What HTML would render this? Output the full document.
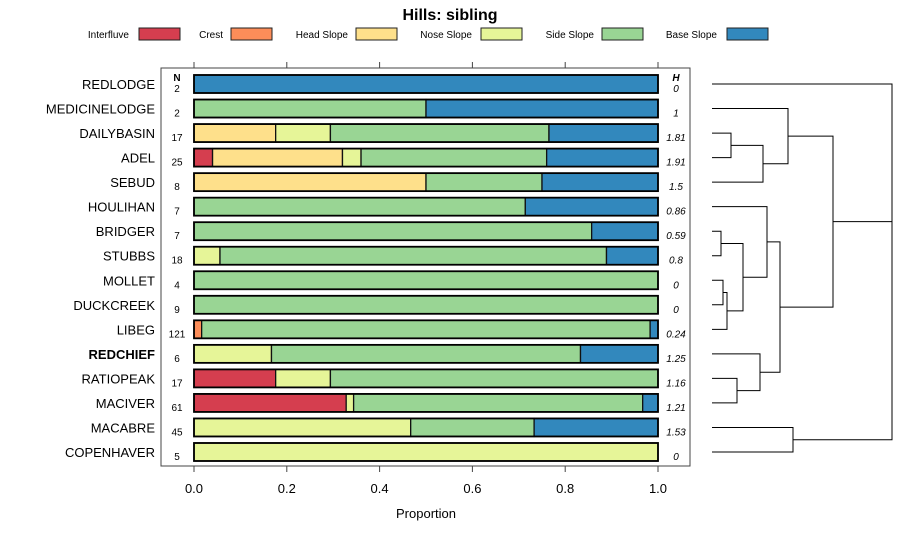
<!DOCTYPE html>
<html><head><meta charset="utf-8"><style>
body{margin:0;background:#fff}
svg{font-family:"Liberation Sans",sans-serif}
</style></head><body>
<svg id="c" width="900" height="540" viewBox="0 0 900 540" xmlns="http://www.w3.org/2000/svg">
<text x="450" y="20" text-anchor="middle" font-size="16" font-weight="bold">Hills: sibling</text>
<g id="legend"></g>
<rect x="161" y="68" width="529" height="398" fill="none" stroke="#444" stroke-width="1"/>
<g id="axis"></g>
<g id="bars"></g>
<g id="dendro" stroke="#000" stroke-width="1" fill="none"></g>
<text x="426" y="518" text-anchor="middle" font-size="13">Proportion</text>
<text x="177" y="81" text-anchor="middle" font-size="10" font-weight="bold">N</text>
<text x="676" y="81" text-anchor="middle" font-size="10" font-weight="bold" font-style="italic">H</text>
</svg>
<script>
const categories=["REDLODGE","MEDICINELODGE","DAILYBASIN","ADEL","SEBUD","HOULIHAN","BRIDGER","STUBBS","MOLLET","DUCKCREEK","LIBEG","REDCHIEF","RATIOPEAK","MACIVER","MACABRE","COPENHAVER"];
const seriesNames=["Interfluve","Crest","Head Slope","Nose Slope","Side Slope","Base Slope"];
const interfluve=[0,0,0,0.04,0,0,0,0,0,0,0,0,0.176,0.328,0,0];
const crest=[0,0,0,0,0,0,0,0,0,0,0.0165,0,0,0,0,0];
const headSlope=[0,0,0.176,0.28,0.5,0,0,0,0,0,0,0,0,0,0,0];
const noseSlope=[0,0,0.118,0.04,0,0,0,0.056,0,0,0,0.167,0.118,0.016,0.467,1];
const sideSlope=[0,0.5,0.471,0.4,0.25,0.714,0.857,0.833,1,1,0.9665,0.666,0.706,0.623,0.266,0];
const baseSlope=[1,0.5,0.235,0.24,0.25,0.286,0.143,0.111,0,0,0.017,0.167,0,0.033,0.267,0];
const nValues=["2","2","17","25","8","7","7","18","4","9","121","6","17","61","45","5"];
const hValues=["0","1","1.81","1.91","1.5","0.86","0.59","0.8","0","0","0.24","1.25","1.16","1.21","1.53","0"];
const xTicks=[0,0.2,0.4,0.6,0.8,1.0];
const xTickLabels=["0.0","0.2","0.4","0.6","0.8","1.0"];
const colors=["#d53e4f","#fc8d59","#fee08b","#e6f598","#99d594","#3288bd"];
// dendrogram merges: [left, right, height(px x)] ; "Lk" = leaf k, number = previous merge
const merges=[["L8","L9",723],["L10",0,727],["L6","L7",721],[2,1,743],["L5",3,767],["L12","L13",737],["L11",5,760],[4,6,780],["L2","L3",731],[8,"L4",763],["L1",9,788],[10,7,833],["L14","L15",793],["L0",11,892],[13,12,892]];
const NS="http://www.w3.org/2000/svg";
function el(t,a,p){const e=document.createElementNS(NS,t);for(const k in a)e.setAttribute(k,a[k]);p.appendChild(e);return e;}
const xs=v=>194+v*464;
const ys=i=>84+i*24.533;
// legend
const leg=document.getElementById('legend');
const legTextEnd=[129,223,348,472,594,717];
const legBox=[139,231,356,481,602,727];
seriesNames.forEach((n,i)=>{
 const t=el('text',{x:legTextEnd[i],y:38,'text-anchor':'end','font-size':'10'},leg);t.textContent=n;
 
 
 const r=el('rect',{x:legBox[i],y:28,width:41,height:12,fill:colors[i],stroke:'#222'},leg);
 
 
});
// axis
const ax=document.getElementById('axis');
xTicks.forEach((v,i)=>{
 const l1=el('line',{x1:xs(v),x2:xs(v),y1:62,y2:68,stroke:'#444'},ax);
 
 
 const l2=el('line',{x1:xs(v),x2:xs(v),y1:466,y2:472,stroke:'#444'},ax);
 
 
 const t=el('text',{x:xs(v),y:493,'text-anchor':'middle','font-size':'13'},ax);t.textContent=xTickLabels[i];
 
 
});
// bars
const bars=document.getElementById('bars');
const series=[interfluve,crest,headSlope,noseSlope,sideSlope,baseSlope];
categories.forEach((c,i)=>{
 const y=ys(i);
 const lab=el('text',{x:155,y:y+5,'text-anchor':'end','font-size':'13','font-weight':c==="REDCHIEF"?'bold':'normal'},bars);lab.textContent=c;
 
 
 let acc=0;
 series.forEach((s,k)=>{
  const v=s[i];if(v<=0)return;
  const r=el('rect',{x:xs(acc),y:y-9,width:xs(acc+v)-xs(acc),height:18,fill:colors[k],stroke:'#111','stroke-width':'1.3'},bars);
  
  
  acc+=v;
 });
 const o=el('rect',{x:xs(0),y:y-9,width:xs(1)-xs(0),height:18,fill:'none',stroke:'#000','stroke-width':'1.8'},bars);
 
 
 const n=el('text',{x:177,y:y+8,'text-anchor':'middle','font-size':'10'},bars);n.textContent=nValues[i];
 
 
 const h=el('text',{x:676,y:y+8,'text-anchor':'middle','font-size':'10','font-style':'italic'},bars);h.textContent=hValues[i];
 
 
});
// dendrogram
const dg=document.getElementById('dendro');
const node=[];
function pos(id){if(typeof id==="string"){return {x:712,y:ys(+id.slice(1))};}return node[id];}
merges.forEach((m,j)=>{
 const a=pos(m[0]),b=pos(m[1]),x=m[2];
 const p=el('path',{d:`M${a.x},${a.y}H${x}V${b.y}H${b.x}`},dg);
 
 
 node[j]={x:x,y:(a.y+b.y)/2};
});
</script>
</body></html>
